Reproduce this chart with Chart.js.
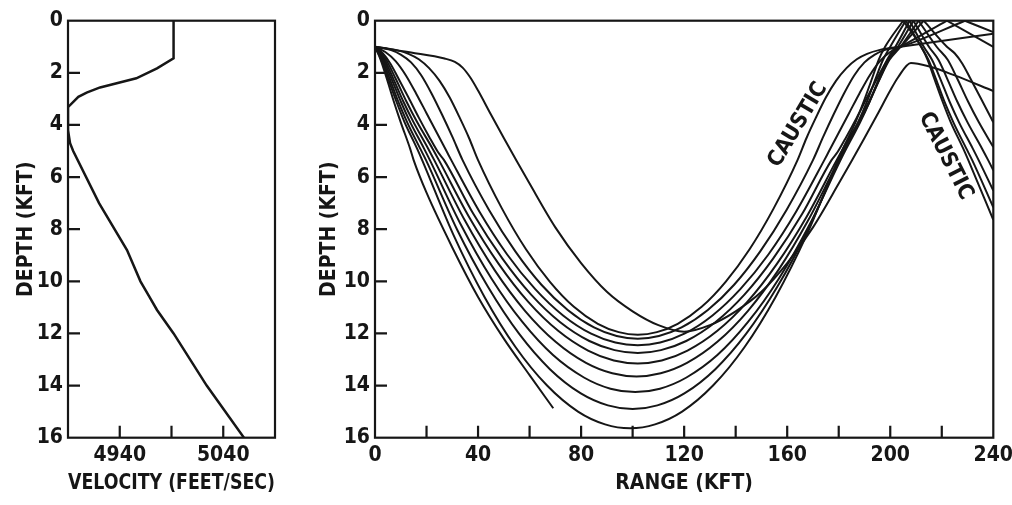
<!DOCTYPE html>
<html>
<head>
<meta charset="utf-8">
<script src="https://cdn.jsdelivr.net/npm/chart.js@4.4.1/dist/chart.umd.min.js"></script>
<style>
  body { margin: 0; background: #fff; }
  #wrap { position: relative; width: 1012px; height: 505px; overflow: hidden; background: #fff; }
  canvas { position: absolute; top: 0; }
</style>
</head>
<body>
<div id="wrap">
  <canvas id="vel" width="320" height="505" style="left:0"></canvas>
  <canvas id="rays" width="740" height="505" style="left:300px"></canvas>
</div>
<script>
// ---- left panel: sound velocity profile ----
var velValues = [4992, 4992, 4976, 4956, 4921, 4908, 4900, 4890, 4890, 4892, 4895, 4920, 4947, 4960, 4968, 4976, 4992, 5024, 5060];
var velDepths = [0, 1.44, 1.83, 2.21, 2.56, 2.76, 2.92, 3.32, 4.2, 4.7, 5.0, 7.0, 8.8, 10.0, 10.55, 11.1, 12.0, 14.0, 16.0];
var velTicks = [4890, 4940, 4990, 5040, 5090];
var velLabels = [4940, 5040];
var depthTicks = [0, 2, 4, 6, 8, 10, 12, 14, 16];

// ---- right panel: ray paths [range kft, depth kft] ----
var rangeTicks = [0, 20, 40, 60, 80, 100, 120, 140, 160, 180, 200, 220, 240];
var rangeLabels = [0, 40, 80, 120, 160, 200, 240];

var rayT = [[0,1],[2.2,1.5],[4.5,2.2],[7.3,3.1],[10,3.9],[13.6,4.9],[15,5.35],[20,6.6],[30,8.7],[40,10.6],[50,12.2],[60,13.6],[69.2,14.87]];
var ray1 = [[0,1],[2.5,1.5],[5,2.2],[8.3,3.1],[11.5,3.9],[16.3,4.9],[18.3,5.35],[30.4,8.21],[42.5,10.6],[54.6,12.53],[66.7,13.99],[78.8,15.0],[89.3,15.49],[99,15.64],[108.7,15.49],[119.2,15.0],[131.3,13.99],[143.4,12.53],[155.5,10.6],[167.6,8.21],[179.7,5.35],[181.7,4.9],[186.5,3.9],[189.7,3.1],[193,2.2],[195.5,1.5],[198,1.0],[205,0]];
var ray1Down = [[205,0],[212,1.0],[214.5,1.5],[217,2.2],[220.3,3.1],[223.5,3.9],[228.3,4.9],[230.3,5.35],[240,7.64]];
var ray2 = [[0,1],[2.8,1.5],[5.6,2.2],[9,3.1],[12.5,3.9],[17.5,4.9],[19.8,5.35],[31.8,8.0],[43.9,10.22],[55.9,12.01],[67.9,13.37],[79.9,14.3],[90.4,14.76],[100,14.9],[109.6,14.76],[120.1,14.3],[132.1,13.37],[144.1,12.01],[156.1,10.22],[168.2,8.0],[180.2,5.35],[182.5,4.9],[187.5,3.9],[191,3.1],[194.4,2.2],[197.2,1.5],[200,1.0],[206,0]];
var ray2Down = [[206,0],[212,1.0],[214.8,1.5],[217.6,2.2],[221,3.1],[224.5,3.9],[229.5,4.9],[231.8,5.35],[240,7.16]];
var ray3 = [[0,1],[3.2,1.5],[6.3,2.2],[10,3.1],[13.7,3.9],[19,4.9],[21.3,5.35],[33.3,7.82],[45.2,9.89],[57.2,11.56],[69.1,12.83],[81.1,13.69],[91.4,14.12],[101,14.25],[110.6,14.12],[120.9,13.69],[132.9,12.83],[144.8,11.56],[156.8,9.89],[168.7,7.82],[180.7,5.35],[183,4.9],[188.3,3.9],[192,3.1],[195.7,2.2],[198.8,1.5],[202,1.0],[207.5,0]];
var ray3Down = [[207.5,0],[213,1.0],[216.2,1.5],[219.3,2.2],[223,3.1],[226.7,3.9],[232,4.9],[234.3,5.35],[240,6.52]];
var ray4 = [[0,1],[3.7,1.5],[7,2.2],[11,3.1],[15,3.9],[20.6,4.9],[23,5.35],[34.8,7.65],[46.5,9.58],[58.3,11.14],[70.1,12.32],[81.9,13.13],[92.1,13.53],[101.5,13.65],[110.9,13.53],[121.1,13.13],[132.9,12.32],[144.7,11.14],[156.5,9.58],[168.2,7.65],[180,5.35],[182.4,4.9],[188,3.9],[192,3.1],[196,2.2],[199.3,1.5],[203,1.0],[209,0]];
var ray4Down = [[209,0],[215,1.0],[218.7,1.5],[222,2.2],[226,3.1],[230,3.9],[235.6,4.9],[238,5.35],[240,5.74]];
var ray5 = [[0,1],[4.3,1.5],[7.9,2.2],[12.2,3.1],[16.4,3.9],[22.3,4.9],[24.8,5.35],[36.4,7.51],[48,9.33],[59.5,10.79],[71.1,11.9],[82.7,12.66],[92.7,13.04],[102,13.15],[111.3,13.04],[121.3,12.66],[132.9,11.9],[144.5,10.79],[156,9.33],[167.6,7.51],[179.2,5.35],[181.7,4.9],[187.6,3.9],[191.8,3.1],[196.1,2.2],[199.7,1.5],[204,1.0],[211,0]];
var ray5Down = [[211,0],[218,1.0],[222.3,1.5],[225.9,2.2],[230.2,3.1],[234.4,3.9],[240,4.85]];
var ray6 = [[0,1],[3,1.25],[6,1.65],[9,2.2],[13,2.95],[17,3.72],[21,4.45],[24.5,5.05],[26.8,5.35],[38.1,7.4],[49.4,9.12],[60.6,10.51],[71.9,11.57],[83.2,12.29],[93,12.64],[102,12.75],[111,12.64],[120.8,12.29],[132.1,11.57],[143.4,10.51],[154.6,9.12],[165.9,7.4],[177.2,5.35],[179.5,5.05],[183,4.45],[187,3.72],[191,2.95],[195,2.2],[198,1.65],[201,1.25],[204,1.0],[213,0]];
var ray6Down = [[213,0],[222,1.0],[225,1.25],[228,1.65],[231,2.2],[235,2.95],[240,3.9]];
var ray7 = [[0,1],[4,1.2],[8,1.55],[12,2.1],[16,2.8],[20,3.55],[24,4.3],[28,5.05],[29.6,5.35],[40.5,7.32],[51.3,8.97],[62.2,10.3],[73,11.31],[83.9,12.01],[93.3,12.35],[102,12.45],[110.7,12.35],[120.1,12.01],[131,11.31],[141.8,10.3],[152.7,8.97],[163.5,7.32],[174.4,5.35],[176,5.05],[180,4.3],[184,3.55],[188,2.8],[192,2.1],[196,1.55],[200,1.2],[204,1.0],[222,0]];
var ray7Down = [[222,0],[240,1.0]];
var ray8 = [[0,1],[6,1.12],[10,1.3],[14,1.6],[18,2.1],[22,2.8],[26,3.6],[30,4.45],[34,5.35],[44.2,7.25],[54.4,8.84],[64.6,10.13],[74.8,11.1],[85,11.77],[93.8,12.1],[102,12.2],[110.2,12.1],[119,11.77],[129.2,11.1],[139.4,10.13],[149.6,8.84],[159.8,7.25],[170,5.35],[174,4.45],[178,3.6],[182,2.8],[186,2.1],[190,1.6],[194,1.3],[198,1.12],[204,1.0],[229,0]];
var ray8Down = [[229,0],[240,0.44]];
var ray9 = [[0,1],[8,1.12],[13,1.27],[17,1.48],[21,1.82],[25,2.3],[29,2.95],[33,3.75],[36.5,4.5],[40,5.35],[49.3,7.21],[58.6,8.77],[67.9,10.02],[77.2,10.98],[86.5,11.63],[94.6,11.95],[102,12.05],[109.4,11.95],[117.5,11.63],[126.8,10.98],[136.1,10.02],[145.4,8.77],[154.7,7.21],[164,5.35],[167.5,4.5],[171,3.75],[175,2.95],[179,2.3],[183,1.82],[187,1.48],[191,1.27],[196,1.12],[204,1.0],[240,0.5]];
var rayA = [[0,1],[14,1.22],[27,1.45],[31,1.58],[34,1.8],[37,2.18],[40,2.68],[45,3.6],[50,4.5],[55,5.38],[60,6.25],[70,7.93],[80,9.3],[90,10.4],[100,11.15],[110,11.68],[120,11.93],[130,11.68],[140,11.15],[150,10.4],[160,9.3],[170,7.93],[180,6.25],[185,5.38],[190,4.5],[195,3.6],[200,2.68],[203,2.18],[208,1.62],[215,1.75],[225,2.1],[240,2.7]];

var raySegments = [rayT, ray1, ray1Down, ray2, ray2Down, ray3, ray3Down, ray4, ray4Down,
                   ray5, ray5Down, ray6, ray6Down, ray7, ray7Down, ray8, ray8Down, ray9, rayA];

var INK = '#161616';
var FONT = "'Liberation Sans Narrow', 'DejaVu Sans Condensed', 'Arial Narrow', sans-serif";
Chart.defaults.font.family = FONT;
Chart.defaults.font.weight = 'bold';
Chart.defaults.color = INK;

function toPoints(arr){
    return arr.map(function(p){ return {x: p[0], y: p[1]}; });
}

// box around the plot, tick marks pointing inward, rotated notes
var frameTicks = {
    id: 'frameTicks',
    afterDatasetsDraw: function(chart, args, opts){
        var ctx = chart.ctx, a = chart.chartArea;
        var xs = chart.scales.x, ys = chart.scales.y;
        ctx.save();
        ctx.strokeStyle = INK;
        ctx.lineWidth = 2.2;
        ctx.strokeRect(a.left, a.top, a.right - a.left, a.bottom - a.top);
        ctx.beginPath();
        opts.xMarks.forEach(function(v){
            var px = xs.getPixelForValue(v);
            ctx.moveTo(px, a.bottom);
            ctx.lineTo(px, a.bottom - opts.len);
        });
        opts.yMarks.forEach(function(v){
            var py = ys.getPixelForValue(v);
            ctx.moveTo(a.left, py);
            ctx.lineTo(a.left + opts.len, py);
        });
        ctx.stroke();
        (opts.notes || []).forEach(function(n){
            ctx.save();
            ctx.translate(xs.getPixelForValue(n.x), ys.getPixelForValue(n.y));
            ctx.rotate(n.angle * Math.PI / 180);
            ctx.font = 'bold 22px ' + FONT;
            ctx.fillStyle = INK;
            ctx.textAlign = 'center';
            ctx.textBaseline = 'middle';
            ctx.fillText(n.text, 0, 0);
            ctx.restore();
        });
        ctx.restore();
    }
};

function depthAxis(titlePad, width){
    return {
        type: 'linear', min: 0, max: 16, reverse: true,
        afterBuildTicks: function(s){ s.ticks = depthTicks.map(function(v){ return {value: v}; }); },
        afterFit: function(s){ s.width = width; },
        grid: {display: false, drawTicks: false},
        border: {display: false},
        ticks: {padding: 5, font: {size: 21, weight: 'bold'}, color: INK},
        title: {display: true, text: 'DEPTH (KFT)', color: INK, font: {size: 21, weight: 'bold'}, padding: {top: titlePad, bottom: 0}}
    };
}

new Chart(document.getElementById('vel'), {
    type: 'scatter',
    data: {
        datasets: [{
            data: velValues.map(function(v, i){ return {x: v, y: velDepths[i]}; }),
            showLine: true, borderColor: INK, borderWidth: 2.5, pointRadius: 0, tension: 0
        }]
    },
    options: {
        responsive: false, animation: false, devicePixelRatio: 1,
        layout: {padding: {top: 20.7, right: 45, bottom: 0, left: 0}},
        plugins: {
            legend: {display: false}, tooltip: {enabled: false},
            frameTicks: {xMarks: [4940, 4990, 5040], yMarks: [2, 4, 6, 8, 10, 12, 14], len: 12}
        },
        scales: {
            x: {
                type: 'linear', min: 4890, max: 5090,
                afterBuildTicks: function(s){ s.ticks = velTicks.map(function(v){ return {value: v}; }); },
                afterFit: function(s){ s.height = 67.3; },
                grid: {display: false, drawTicks: false},
                border: {display: false},
                ticks: {padding: 5, autoSkip: false, maxRotation: 0, font: {size: 21, weight: 'bold'}, color: INK,
                        callback: function(v){ return velLabels.indexOf(v) >= 0 ? String(v) : ''; }},
                title: {display: true, text: 'VELOCITY (FEET/SEC)', color: INK, font: {size: 21, weight: 'bold'}, padding: {top: 0, bottom: 9}}
            },
            y: depthAxis(14, 68)
        }
    },
    plugins: [frameTicks]
});

new Chart(document.getElementById('rays'), {
    type: 'scatter',
    data: {
        datasets: raySegments.map(function(seg){
            return {data: toPoints(seg), showLine: true, borderColor: INK, borderWidth: 2,
                    pointRadius: 0, cubicInterpolationMode: 'monotone'};
        })
    },
    options: {
        responsive: false, animation: false, devicePixelRatio: 1,
        layout: {padding: {top: 20.7, right: 46.7, bottom: 0, left: 0}},
        plugins: {
            legend: {display: false}, tooltip: {enabled: false},
            frameTicks: {
                xMarks: [20, 40, 60, 80, 100, 120, 140, 160, 180, 200, 220],
                yMarks: [2, 4, 6, 8, 10, 12, 14], len: 12,
                notes: [
                    {text: 'CAUSTIC', x: 164.2, y: 4.0, angle: -59},
                    {text: 'CAUSTIC', x: 221.5, y: 5.19, angle: 63}
                ]
            }
        },
        scales: {
            x: {
                type: 'linear', min: 0, max: 240,
                afterBuildTicks: function(s){ s.ticks = rangeTicks.map(function(v){ return {value: v}; }); },
                afterFit: function(s){ s.height = 67.3; },
                grid: {display: false, drawTicks: false},
                border: {display: false},
                ticks: {padding: 5, autoSkip: false, maxRotation: 0, font: {size: 21, weight: 'bold'}, color: INK,
                        callback: function(v){ return rangeLabels.indexOf(v) >= 0 ? String(v) : ''; }},
                title: {display: true, text: 'RANGE (KFT)', color: INK, font: {size: 21, weight: 'bold'}, padding: {top: 0, bottom: 9}}
            },
            y: depthAxis(17, 75)
        }
    },
    plugins: [frameTicks]
});
</script>
</body>
</html>
